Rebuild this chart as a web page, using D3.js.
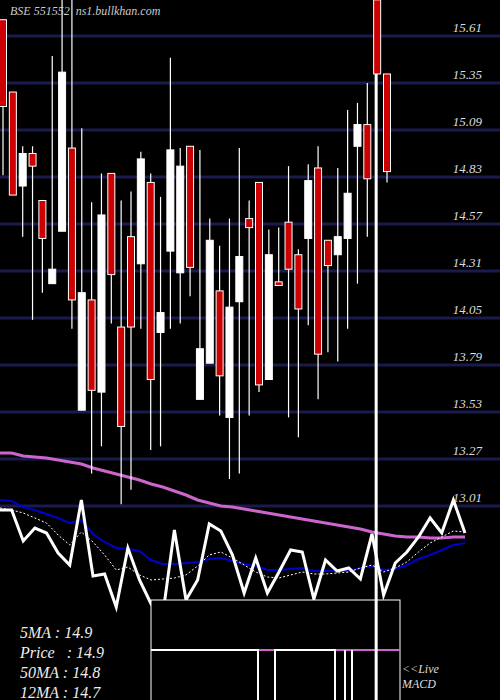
<!DOCTYPE html>
<html><head><meta charset="utf-8">
<script src="https://cdn.jsdelivr.net/npm/d3@7"></script>
<style>body{margin:0;background:#000}svg{display:block}text{white-space:pre}</style>
</head><body><svg id="c" width="500" height="700"></svg>
<script>
const title = "BSE 551552  ns1.bullkhan.com";
const priceTicks = [15.61,15.35,15.09,14.83,14.57,14.31,14.05,13.79,13.53,13.27,13.01];
// OHLC candles
const opens  = [15.70,15.30,14.78,14.96,14.70,14.24,14.53,14.99,13.54,14.15,13.64,14.85,14.00,14.50,14.35,14.80,13.97,14.42,14.30,15.00,13.60,13.80,14.20,13.50,14.14,14.60,14.80,13.71,14.25,14.58,14.40,14.49,14.88,14.48,14.40,14.49,15.00,15.12,15.81,15.40];
const highs  = [15.70,15.30,15.00,15.00,14.70,15.50,15.81,15.81,15.10,14.69,14.85,14.85,14.70,14.75,14.97,14.85,14.72,15.49,14.99,15.00,14.98,14.60,14.45,14.60,14.99,14.70,14.80,14.54,14.55,14.89,14.43,14.90,15.00,14.48,14.88,15.20,15.24,15.35,15.81,15.40];
const lows   = [14.84,14.73,14.50,14.04,14.19,14.24,14.53,13.99,13.54,13.19,13.34,14.02,13.02,13.10,13.99,13.32,13.34,13.99,14.02,14.17,13.60,13.80,13.51,13.16,13.19,13.51,13.64,13.71,14.23,13.50,13.39,14.01,13.60,13.86,13.81,13.99,14.24,14.50,15.40,14.80];
const closes = [15.22,14.73,14.96,14.89,14.49,14.32,15.41,14.15,14.19,13.65,14.62,14.29,13.45,14.00,14.93,13.71,14.08,14.98,14.89,14.33,13.88,14.48,13.73,14.11,14.39,14.55,13.68,14.40,14.23,14.32,14.10,14.81,13.85,14.34,14.50,14.74,15.12,14.82,15.40,14.86];
// indicator panel (arbitrary units)
const priceLine = [190,190,159,172,167,147,135,200,124,126,93,152,120,96,85,170,100,120,176,169,145,107,142,107,128,150,148,101,140,129,132,121,166,105,137,148,163,182,167,200,167];
const ma12 = [200,199,193,190,186,182,177,180,166,158,152,151,149,140,136,136,137,138,141,142,139,136,134,130,130,131,132,129,129,129,129,132,134,130,131,135,141,145,150,155,157];
const ma5 = [192,190,187,182,177,165,155,168,158,145,130,133,125,120,121,122,125,134,145,148,142,135,128,123,122,125,128,126,126,127,128,132,135,128,132,138,148,157,163,169,168];
const ma50 = [247,247,244,243,242,240,238,236,232,229,226,223,220,216,213,209,205,200,197,194,193,191,189,187,185,183,181,179,177,175,173,171,168,166,164,163,163,162,162,163,163];
const legend = ["5MA : 14.9","Price   : 14.9","50MA : 14.8","12MA : 14.7"];
const macdBars = [258,275,335,345,352];
const macdPink = [[259,274],[336,353],[353,400]];

const svg = d3.select("#c");
svg.append("rect").attr("width",500).attr("height",700).attr("fill","#000");
const y = d3.scaleLinear().domain([13.01,15.61]).range([506,36]);
const x = d3.scaleLinear().domain([0,39]).range([3,387]);
const xi = d3.scaleLinear().domain([0,40]).range([0,465]);
const yi = d3.scaleLinear().domain([0,260]).range([700,440]);
const font = "'Liberation Serif','DejaVu Serif',serif";

svg.selectAll(".g").data(priceTicks).enter().append("line")
  .attr("x1",0).attr("x2",500).attr("y1",d=>y(d)).attr("y2",d=>y(d))
  .attr("stroke","#1a1a4c").attr("stroke-width",3);
svg.selectAll(".t").data(priceTicks).enter().append("text")
  .attr("x",482).attr("y",d=>y(d)-4).attr("text-anchor","end")
  .attr("font-family",font).attr("font-style","italic").attr("font-size",13)
  .attr("fill","#ddd").text(d=>d.toFixed(2));

const line = d3.line().x((d,i)=>xi(i)).y(d=>yi(d));
svg.append("path").datum(ma50).attr("d",line).attr("fill","none").attr("stroke","#cc66cc").attr("stroke-width",3);
svg.append("path").datum(ma12).attr("d",line).attr("fill","none").attr("stroke","#0000cc").attr("stroke-width",2);
svg.append("path").datum(ma5).attr("d",line).attr("fill","none").attr("stroke","#fff").attr("stroke-width",1).attr("stroke-dasharray","2,2");
svg.append("path").datum(priceLine).attr("d",line).attr("fill","none").attr("stroke","#fff").attr("stroke-width",3);

const cd = opens.map((o,i)=>({o,h:highs[i],l:lows[i],c:closes[i],i}));
svg.selectAll(".w").data(cd).enter().append("line")
  .attr("x1",d=>x(d.i)).attr("x2",d=>x(d.i)).attr("y1",d=>y(d.h)).attr("y2",d=>y(d.l))
  .attr("stroke","#fff").attr("stroke-width",1.2);
svg.append("line").attr("x1",x(38)-1).attr("x2",x(38)-1).attr("y1",y(15.40)).attr("y2",700).attr("stroke","#fff").attr("stroke-width",3);
svg.selectAll(".b").data(cd).enter().append("rect")
  .attr("x",d=>x(d.i)-3.5).attr("width",7)
  .attr("y",d=>y(Math.max(d.o,d.c))).attr("height",d=>Math.max(2,Math.abs(y(d.o)-y(d.c))))
  .attr("fill",d=>d.c>=d.o?"#fff":"#cc0000").attr("stroke","#fff").attr("stroke-width",1);

svg.append("rect").attr("x",151).attr("y",600).attr("width",249).attr("height",102).attr("fill","#000").attr("stroke","#fff").attr("stroke-width",1);
svg.append("line").attr("x1",151).attr("x2",400).attr("y1",650).attr("y2",650).attr("stroke","#fff").attr("stroke-width",2);
svg.selectAll(".mp").data(macdPink).enter().append("line").attr("x1",d=>d[0]).attr("x2",d=>d[1]).attr("y1",650).attr("y2",650).attr("stroke","#cc66cc").attr("stroke-width",2);
svg.selectAll(".mb").data(macdBars).enter().append("line").attr("x1",d=>d).attr("x2",d=>d).attr("y1",650).attr("y2",700).attr("stroke","#fff").attr("stroke-width",2);
svg.append("line").attr("x1",x(38)-1).attr("x2",x(38)-1).attr("y1",600).attr("y2",700).attr("stroke","#fff").attr("stroke-width",3);

svg.append("text").attr("x",10).attr("y",15).attr("font-family",font).attr("font-style","italic").attr("font-size",12).attr("fill","#ccc").text(title);
svg.selectAll(".lg").data(legend).enter().append("text").attr("x",20).attr("y",(d,i)=>638+i*20)
  .attr("font-family",font).attr("font-style","italic").attr("font-size",16).attr("fill","#eee").text(d=>d);
svg.append("text").attr("x",402).attr("y",673).attr("font-family",font).attr("font-style","italic").attr("font-size",12).attr("fill","#ddd").text("<<Live");
svg.append("text").attr("x",402).attr("y",688).attr("font-family",font).attr("font-style","italic").attr("font-size",12).attr("fill","#ddd").text("MACD");
</script></body></html>
